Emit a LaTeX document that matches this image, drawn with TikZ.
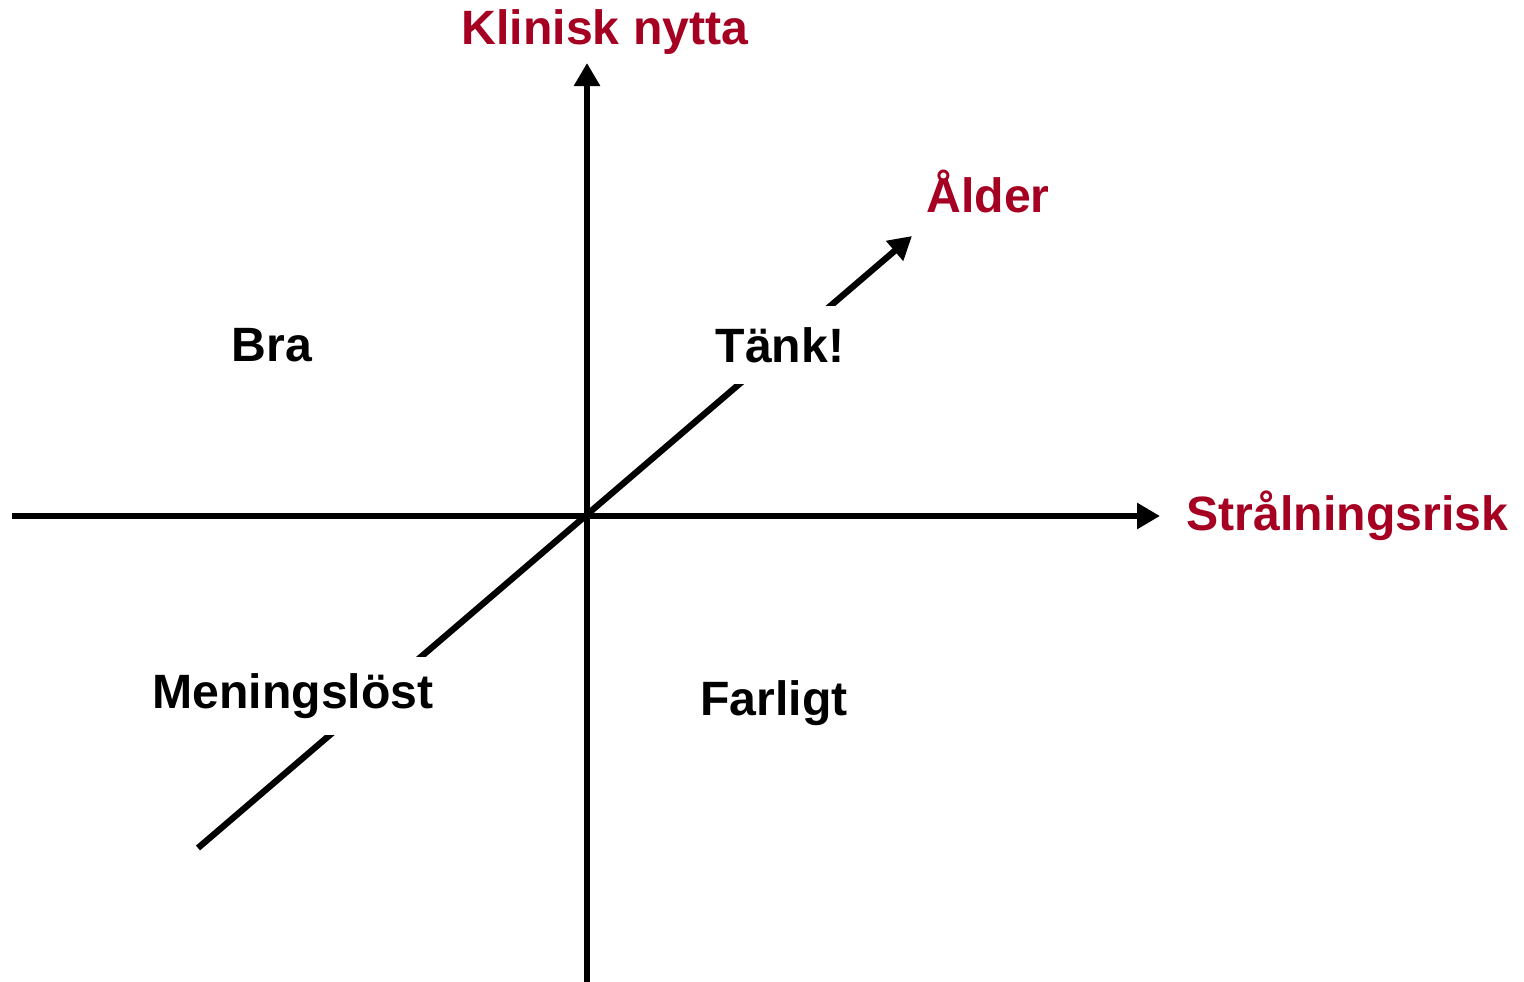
\documentclass[tikz,border=0pt]{standalone}
\usepackage{fontspec}
\setmainfont{Liberation Sans}
\usepackage{tikz}
\usetikzlibrary{arrows.meta,positioning}
\definecolor{axred}{HTML}{A50021}
\tikzset{
  ax/.style={line width=1.8pt,black},
  axar/.style={ax,-{Triangle[length=2.3mm,width=2.5mm]}},
  axlbl/.style={font=\fontsize{13.7}{15}\selectfont\bfseries,text=axred,inner sep=0pt},
  quad/.style={font=\fontsize{13.7}{15}\selectfont\bfseries,fill=white,inner sep=0pt,minimum height=7.8mm,minimum width=1mm}
}
\begin{document}
\begin{tikzpicture}[x=0.01cm,y=-0.01cm]
\useasboundingbox (0,0) rectangle (1524,982);
% axes
\coordinate (o) at (587,516);
\coordinate (xs) at (12,516);   \coordinate (xe) at (1160,516);
\coordinate (ys) at (587,982);  \coordinate (ye) at (587,63);
\coordinate (ds) at (198,848);  \coordinate (de) at (912,236);
\draw[axar] (xs) -- (xe);
\draw[axar] (ys) -- (ye);
\draw[axar] (ds) -- (de);
% axis labels
\node[axlbl] (nytta) at (605,32) {Klinisk nytta};
\node[axlbl] (alder) at (988,191) {Ålder};
\node[axlbl,anchor=west] (risk) at (1186,516) {Strålningsrisk};
% quadrants
\node[quad] (bra) at (272,345) {Bra};
\node[quad] (tank) at (780,345) {Tänk!};
\node[quad] (menl) at (293,696) {Meningslöst};
\node[quad] (farl) at (774,703) {Farligt};
\end{tikzpicture}
\end{document}
